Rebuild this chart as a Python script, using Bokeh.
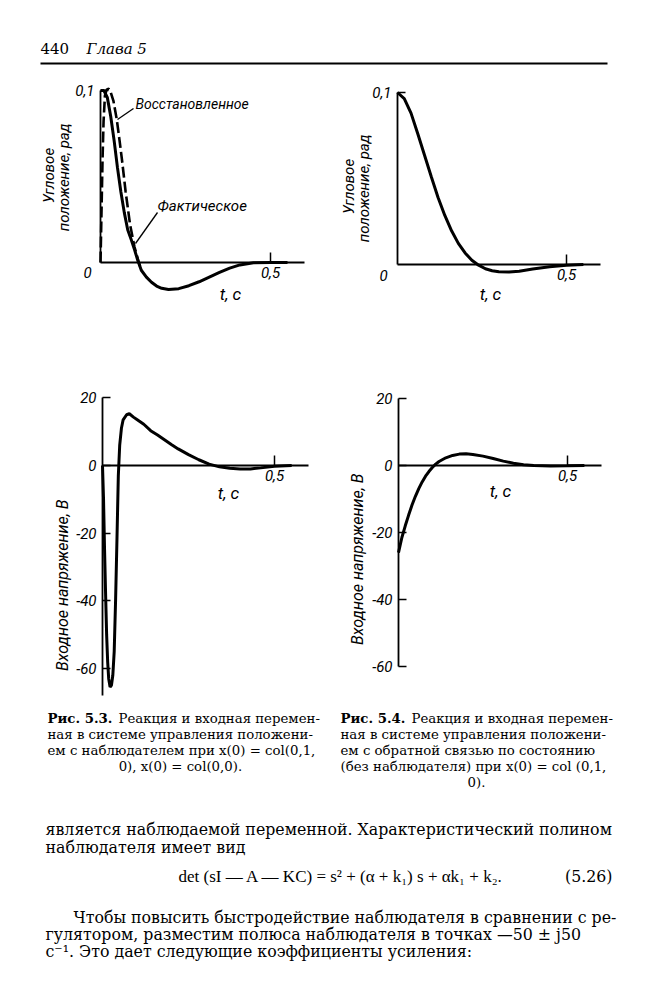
import math
from bokeh.plotting import figure
from bokeh.models import Range1d, LinearAxis, FixedTicker, Label
from bokeh.embed import file_html
from bokeh.resources import INLINE

# ---------------- data ----------------
# Fig. 5.3 (top): angular position, rad -- actual response (solid)
t_pos_actual = [0, 0.01, 0.02, 0.03, 0.04, 0.05, 0.06, 0.07, 0.08, 0.09, 0.10, 0.11,
                0.12, 0.135, 0.15, 0.165, 0.18, 0.20, 0.23, 0.26, 0.29, 0.32, 0.35,
                0.38, 0.41, 0.45, 0.50, 0.55]
pos_actual = [0.100, 0.100, 0.096, 0.085, 0.071, 0.055, 0.041, 0.029, 0.019, 0.0135, 0.0075,
              0.0010, -0.0045, -0.0085, -0.0115, -0.0137, -0.015, -0.0157, -0.0152,
              -0.0135, -0.0112, -0.0085, -0.0058, -0.0033, -0.0014, -0.0002, 0.0, 0.0]
# Fig. 5.3 (top): reconstructed position (dashed)
t_pos_rec = [0, 0.003, 0.006, 0.009, 0.013, 0.018, 0.024, 0.030, 0.038, 0.048, 0.056,
             0.063, 0.074, 0.087, 0.10, 0.11, 0.12]
pos_rec = [0.0, 0.030, 0.060, 0.082, 0.097, 0.1005, 0.101, 0.099, 0.094, 0.083, 0.071,
           0.060, 0.041, 0.022, 0.009, 0.002, -0.0045]
# Fig. 5.4 (top): angular position with state feedback
t_pos_sf = [0, 0.02, 0.04, 0.06, 0.08, 0.10, 0.12, 0.14, 0.16, 0.18, 0.20, 0.22, 0.24,
            0.26, 0.28, 0.30, 0.33, 0.36, 0.40, 0.45, 0.50, 0.55]
pos_sf = [0.100, 0.0965, 0.088, 0.076, 0.0635, 0.051, 0.039, 0.0285, 0.0196, 0.0123,
          0.0067, 0.0025, -0.0004, -0.0025, -0.0036, -0.0042, -0.0043, -0.0039,
          -0.0026, -0.0013, -0.0005, 0.0]
# Fig. 5.3 (bottom): input voltage, V (with observer)
t_u_obs = [0, 0.003, 0.006, 0.009, 0.012, 0.015, 0.018, 0.022, 0.026, 0.030, 0.034,
           0.038, 0.042, 0.046, 0.050, 0.055, 0.060, 0.070, 0.078, 0.09, 0.10, 0.12,
           0.14, 0.16, 0.18, 0.20, 0.22, 0.25, 0.28, 0.31, 0.34, 0.37, 0.40, 0.43,
           0.46, 0.50, 0.55]
u_obs = [0, -10, -25, -38, -50, -58, -63, -65.5, -65, -62, -55, -40, -22, -3, 6, 11,
         13.5, 15, 15.3, 14.3, 13.6, 12.2, 10.3, 9.0, 7.6, 6.2, 4.9, 3.2, 1.7, 0.4,
         -0.4, -0.8, -1.0, -1.0, -0.7, -0.2, 0.0]
# Fig. 5.4 (bottom): input voltage, V (state feedback, no observer)
t_u_sf = [0, 0.01, 0.02, 0.03, 0.04, 0.05, 0.06, 0.07, 0.08, 0.09, 0.10, 0.11, 0.12,
          0.14, 0.16, 0.18, 0.20, 0.22, 0.25, 0.28, 0.31, 0.34, 0.37, 0.40, 0.45,
          0.50, 0.55]
u_sf = [-26, -21.5, -18, -14.8, -11.8, -9.2, -6.9, -4.9, -3.2, -1.8, -0.6, 0.4, 1.2,
        2.3, 3.0, 3.4, 3.5, 3.3, 2.8, 2.1, 1.3, 0.7, 0.25, 0.0, -0.15, -0.1, 0.0]

t_ticks = [0.5]
t_tick_labels = ["0,5"]
pos_ticks = [0.1]
pos_tick_labels = ["0,1"]
u_ticks = [20, 0, -20, -40, -60]
u_tick_labels = ["20", "0", "-20", "-40", "-60"]

# ---------------- page / figure ----------------
W, H = 651, 992
PX, PY = 0, 0                      # page origin of the canvas
SANS = "Roboto"
SERIF = "DejaVu Serif"
MATH = "Liberation Serif"

p = figure(width=W, height=H, x_range=Range1d(PX, PX + W), y_range=Range1d(PY + H, PY),
           x_axis_type=None, y_axis_type=None, toolbar_location=None,
           output_backend="svg", min_border=0, outline_line_color=None,
           background_fill_color="white", border_fill_color="white")


def lin_range(v0, p0, v1, p1, pa, pb):
    k = (v1 - v0) / (p1 - p0)
    return Range1d(v0 + (pa - p0) * k, v0 + (pb - p0) * k)


# panel geometry: page px of t=0, t=0.5, value 0, and a reference value
panels = {
    "a": dict(tx0=100, tx5=270, vy0=262, vref=0.1, vyref=90),
    "b": dict(tx0=397, tx5=566, vy0=264, vref=0.1, vyref=92),
    "c": dict(tx0=102, tx5=274, vy0=465, vref=-60, vyref=668),
    "d": dict(tx0=398, tx5=567, vy0=465, vref=-60, vyref=666),
}
for k, g in panels.items():
    p.extra_x_ranges["x" + k] = lin_range(0, g["tx0"], 0.5, g["tx5"], PX, PX + W)
    p.extra_y_ranges["y" + k] = lin_range(0, g["vy0"], g["vref"], g["vyref"], PY + H, PY)


def axes(k, ybounds, yticks, ylabels):
    common = dict(x_range_name="x" + k, y_range_name="y" + k, fixed_location=0,
                  axis_line_width=1.8, major_tick_line_width=1.5,
                  minor_tick_line_color=None, major_tick_out=0,
                  major_label_text_font=SANS, major_label_text_font_style="italic",
                  major_label_text_font_size="15px", major_label_text_color="black",
                  axis_line_color="black", major_tick_line_color="black")
    xa = LinearAxis(bounds=(0, 0.6), ticker=FixedTicker(ticks=t_ticks),
                    major_label_overrides=dict(zip(t_ticks, t_tick_labels)),
                    major_tick_in=10, major_label_standoff=4, **common)
    p.add_layout(xa, "below")
    ya = LinearAxis(bounds=ybounds, ticker=FixedTicker(ticks=yticks),
                    major_label_overrides=dict(zip(yticks, ylabels)),
                    major_tick_in=8, major_label_standoff=6, **common)
    p.add_layout(ya, "left")


axes("a", (0, 0.1), pos_ticks, pos_tick_labels)
axes("b", (0, 0.1), pos_ticks, pos_tick_labels)
axes("c", (-68, 20), u_ticks, u_tick_labels)
axes("d", (-60, 20), u_ticks, u_tick_labels)

# curves
p.line(t_pos_rec, pos_rec, x_range_name="xa", y_range_name="ya", line_width=2.6,
       line_color="black", line_dash="11 4")
p.line(t_pos_actual, pos_actual, x_range_name="xa", y_range_name="ya", line_width=3,
       line_color="black")
p.line(t_pos_sf, pos_sf, x_range_name="xb", y_range_name="yb", line_width=3,
       line_color="black")
p.line(t_u_obs, u_obs, x_range_name="xc", y_range_name="yc", line_width=3,
       line_color="black")
p.line(t_u_sf, u_sf, x_range_name="xd", y_range_name="yd", line_width=3,
       line_color="black")


# ---------------- chart texts (page coordinates) ----------------
def lab(x, y, s, size="15px", font=SANS, style="italic", align="left", angle=0.0):
    p.add_layout(Label(x=x, y=y, text=s, text_font=font, text_font_style=style,
                       text_font_size=size, text_align=align, text_baseline="middle",
                       angle=angle, text_color="black"))


# origin zero labels on the upper charts
lab(87, 272, "0", align="center")
lab(383, 275, "0", align="center")
# time-axis names
for x, y in [(230, 293), (490, 293), (228, 492), (500, 490)]:
    lab(x, y, "t, c", size="17px", align="center")
# y-axis names
for x, y, s in [(48, 175, "Угловое"), (63, 175, "положение,  рад"),
                (348, 186, "Угловое"), (363, 186, "положение,  рад")]:
    lab(x, y, s, size="15px", align="center", angle=math.pi / 2)
lab(62, 573, "Входное    напряжение,    В", size="16px", align="center", angle=math.pi / 2)
lab(357, 547, "Входное    напряжение,    В", size="16px", align="center", angle=math.pi / 2)
# curve names with leader strokes
lab(135, 103, "Восстановленное", size="14px")
lab(157, 205, "Фактическое", size="15px")
p.segment(x0=[117, 135], y0=[119, 243], x1=[133, 157], y1=[108, 212],
          line_color="black", line_width=1.3)

# ---------------- page texts ----------------
lab(40, 48, "440", size="15px", font=SERIF, style="normal")
lab(86, 48, "Глава 5", size="15px", font=SERIF, style="italic")
p.segment(x0=[40], y0=[63], x1=[607], y1=[63], line_color="black", line_width=1.8)

CAP = "13.3px"
lab(47, 718, "Рис. 5.3.", size=CAP, font=SERIF, style="bold")
lab(118, 718, "Реакция и входная перемен-", size=CAP, font=SERIF, style="normal")
lab(47, 734, "ная в системе управления положени-", size=CAP, font=SERIF, style="normal")
lab(47, 750, "ем с наблюдателем при x(0) = col(0,1,", size=CAP, font=SERIF, style="normal")
lab(182, 766, "0),  x(0) = col(0,0).", size=CAP, font=SERIF, style="normal", align="center")

lab(340, 718, "Рис. 5.4.", size=CAP, font=SERIF, style="bold")
lab(411, 718, "Реакция и входная перемен-", size=CAP, font=SERIF, style="normal")
lab(340, 734, "ная в системе управления положени-", size=CAP, font=SERIF, style="normal")
lab(340, 750, "ем с обратной связью по состоянию", size=CAP, font=SERIF, style="normal")
lab(340, 766, "(без наблюдателя) при x(0) = col (0,1,", size=CAP, font=SERIF, style="normal")
lab(476, 782, "0).", size=CAP, font=SERIF, style="normal", align="center")

BODY = "15.8px"
lab(45, 829, "является наблюдаемой переменной. Характеристический полином",
    size=BODY, font=SERIF, style="normal")
lab(45, 847, "наблюдателя имеет вид", size=BODY, font=SERIF, style="normal")
lab(178, 876, "det (sI — A — KC) = s² + (α + k₁) s + αk₁ + k₂.", size="17px",
    font=MATH, style="normal")
lab(612, 876, "(5.26)", size=BODY, font=SERIF, style="normal", align="right")
lab(73, 917, "Чтобы повысить быстродействие наблюдателя в сравнении с ре-",
    size=BODY, font=SERIF, style="normal")
lab(45, 934, "гулятором, разместим полюса наблюдателя в точках —50 ± j50",
    size=BODY, font=SERIF, style="normal")
lab(45, 951, "с⁻¹. Это дает следующие коэффициенты усиления:", size=BODY,
    font=SERIF, style="normal")

open("out.html", "w").write(file_html(p, INLINE))
